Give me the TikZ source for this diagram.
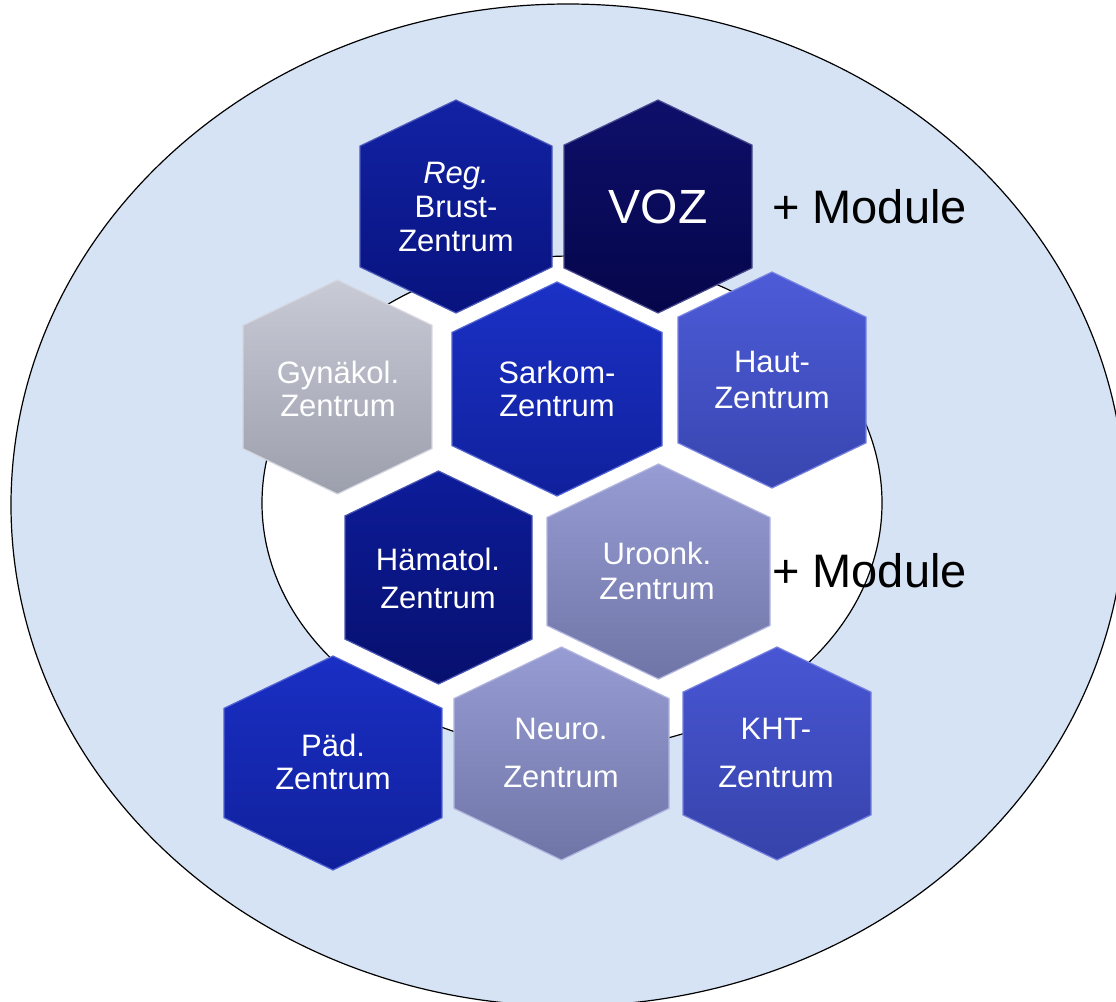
\documentclass[tikz,border=0pt]{standalone}
\usepackage{fontspec}
\setmainfont{Liberation Sans}
\usetikzlibrary{calc}
\definecolor{bgblue}{RGB}{213,227,244}
\definecolor{brustT}{HTML}{1222A4}\definecolor{brustB}{HTML}{08137E}
\definecolor{vozT}{HTML}{0E0F6A}\definecolor{vozB}{HTML}{05064A}
\definecolor{gynT}{HTML}{C8CAD6}\definecolor{gynB}{HTML}{9C9FAC}
\definecolor{sarT}{HTML}{1B31C6}\definecolor{sarB}{HTML}{10209C}
\definecolor{hautT}{HTML}{4D5BD8}\definecolor{hautB}{HTML}{3846B0}
\definecolor{haemT}{HTML}{0D1C9A}\definecolor{haemB}{HTML}{07106E}
\definecolor{uroT}{HTML}{979DD4}\definecolor{uroB}{HTML}{6F75A6}
\definecolor{paedT}{HTML}{1A2FC4}\definecolor{paedB}{HTML}{10209C}
\definecolor{neuroT}{HTML}{979DD4}\definecolor{neuroB}{HTML}{6F75A6}
\definecolor{khtT}{HTML}{4856D4}\definecolor{khtB}{HTML}{3643AA}
\newcommand{\hexa}[7]{%
  \pgfmathsetmacro{\hd}{0.48*#4}%
  \path[top color=#6,bottom color=#7,draw=#6!75!white,line width=1.2pt,line join=miter]
    (#2,#3-#5) -- (#2+#4,#3-#5+\hd) -- (#2+#4,#3+#5-\hd) -- (#2,#3+#5)
    -- (#2-#4,#3+#5-\hd) -- (#2-#4,#3-#5+\hd) -- cycle;
  \coordinate (#1) at (#2,#3);}
\tikzset{
  hextext/.style={text=white,align=center,inner sep=0pt,font=\fontsize{31}{#1}\selectfont},
  hextext/.default=34,
  modtext/.style={text=black,inner sep=0pt,anchor=west,font=\fontsize{47}{50}\selectfont},
}
\begin{document}
\begin{tikzpicture}[x=1pt,y=-1pt]
\useasboundingbox (0,0) rectangle (1116,1001);
\clip (0,0) rectangle (1116,1001);
\draw[fill=bgblue,line width=1.2pt] (568,505) ellipse [x radius=557,y radius=501];
\draw[fill=white,line width=1.2pt] (572,503) ellipse [x radius=310,y radius=247];
% hexagons
\hexa{brust}{456}{206.5}{96}{106.5}{brustT}{brustB}
\hexa{voz}{658}{206.5}{94}{106.5}{vozT}{vozB}
\hexa{gyn}{337.5}{387}{94.5}{107}{gynT}{gynB}
\hexa{sar}{557}{389}{105}{107}{sarT}{sarB}
\hexa{haut}{772}{380}{94}{108}{hautT}{hautB}
\hexa{haem}{438.5}{577.5}{93.5}{106.5}{haemT}{haemB}
\hexa{uro}{658.5}{571.5}{111.5}{107.5}{uroT}{uroB}
\hexa{paed}{333}{763}{109}{107}{paedT}{paedB}
\hexa{neuro}{561.5}{753.5}{107.5}{106.5}{neuroT}{neuroB}
\hexa{kht}{777}{753.5}{94}{106.5}{khtT}{khtB}
% texts
\node[hextext] (tbrust) at (456,207) {\textit{Reg.}\\Brust-\\Zentrum};
\node[text=white,inner sep=0pt,font=\fontsize{48}{50}\selectfont] (tvoz) at (658,207) {VOZ};
\node[hextext=33] (tgyn) at (338,389) {Gynäkol.\\Zentrum};
\node[hextext=33] (tsar) at (557,389) {Sarkom-\\Zentrum};
\node[hextext=36] (thaut) at (772,380) {Haut-\\Zentrum};
\node[hextext=38] (thaem) at (438,578) {Hämatol.\\Zentrum};
\node[hextext=35] (turo) at (657,571) {Uroonk.\\Zentrum};
\node[hextext=33] (tpaed) at (333,762) {Päd.\\Zentrum};
\node[hextext=48] (tneuro) at (561,753) {Neuro.\\Zentrum};
\node[hextext=48] (tkht) at (776,753) {KHT-\\Zentrum};
\node[modtext] (mod1) at (772,207) {+ Module};
\node[modtext] (mod2) at (772,571) {+ Module};
\end{tikzpicture}
\end{document}
